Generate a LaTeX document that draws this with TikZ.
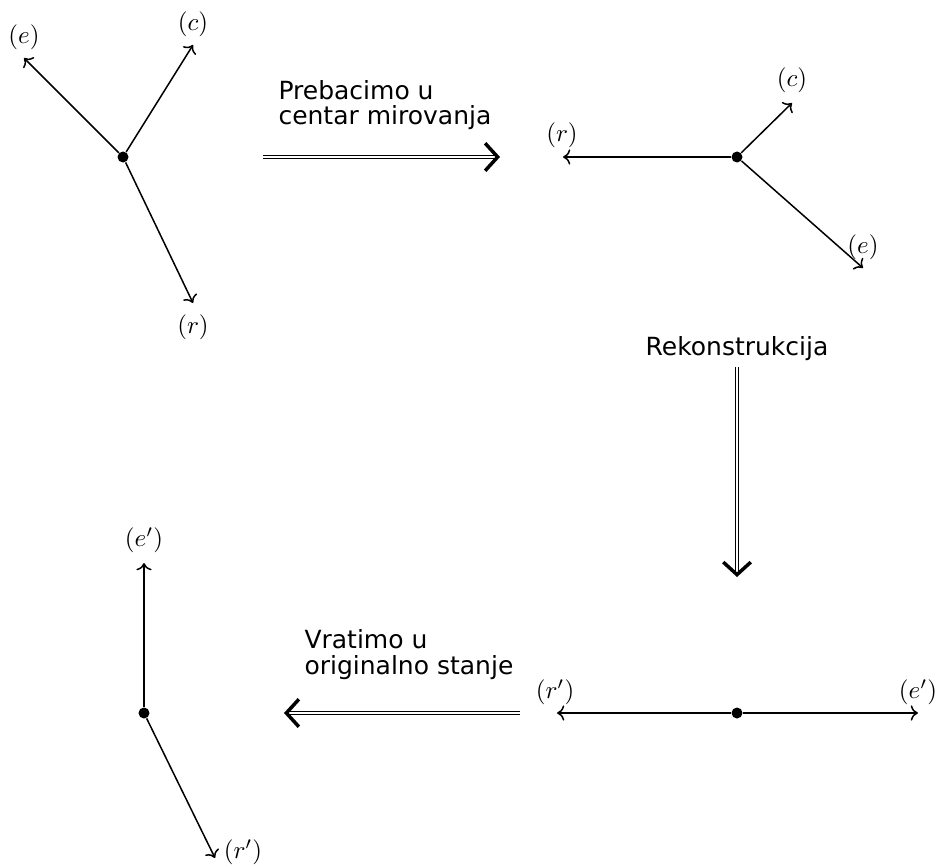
\documentclass[tikz,border=0pt]{standalone}
\usepackage{fontspec}
\setsansfont{DejaVu Sans}
\usetikzlibrary{arrows.meta}

\begin{document}
\begin{tikzpicture}[x=0.4pt,y=-0.4pt]
            \tikzstyle{every node}+=[inner sep=0pt]
            \tikzstyle{vec}=[->, semithick]
            \tikzstyle{tocka}=[circle, fill=black, minimum size=4.4pt]
            \tikzstyle{prijelaz}=[double, double distance=0.7pt, line width=0.45pt, -{Straight Barb[length=5pt, width=11pt, line width=1.4pt]}]
            \tikzstyle{opis}=[font=\sffamily\fontsize{10}{10.2}\selectfont, align=left, anchor=north west]
            \useasboundingbox (0,0) rectangle (939,866);
            % pocetno stanje
            \node [tocka] (o1) at (123,157) {};
            \coordinate (e1) at (24,58);
            \coordinate (c1) at (193,45);
            \coordinate (r1) at (193,303);
            \draw [vec] (o1) -- (e1);
            \draw [vec] (o1) -- (c1);
            \draw [vec] (o1) -- (r1);
            \node (le1) at (24,37) {$(e)$};
            \node (lc1) at (193,24) {$(c)$};
            \node (lr1) at (193,327) {$(r)$};
            % prebacivanje
            \coordinate (p1) at (263,157);
            \coordinate (p2) at (500,157);
            \draw [prijelaz] (p1) -- (p2);
            \node [opis] (t1) at (278,80) {Prebacimo u\\centar mirovanja};
            % centar mirovanja
            \node [tocka] (o2) at (737,157) {};
            \coordinate (r2) at (563,157);
            \coordinate (c2) at (792,103);
            \coordinate (e2) at (863,268);
            \draw [vec] (o2) -- (r2);
            \draw [vec] (o2) -- (c2);
            \draw [vec] (o2) -- (e2);
            \node (lr2) at (562,135) {$(r)$};
            \node (lc2) at (792,80) {$(c)$};
            \node (le2) at (863,247) {$(e)$};
            % rekonstrukcija
            \coordinate (p3) at (737,367);
            \coordinate (p4) at (737,577);
            \draw [prijelaz] (p3) -- (p4);
            \node (t2) at (737,349) {\sffamily Rekonstrukcija};
            % nakon rekonstrukcije
            \node [tocka] (o3) at (737,713) {};
            \coordinate (r3) at (557,713);
            \coordinate (e3) at (918,713);
            \draw [vec] (o3) -- (r3);
            \draw [vec] (o3) -- (e3);
            \node (lr3) at (555,692) {$(r')$};
            \node (le3) at (918,692) {$(e')$};
            % vracanje
            \coordinate (p5) at (520,713);
            \coordinate (p6) at (284,713);
            \draw [prijelaz] (p5) -- (p6);
            \node [opis] (t3) at (304,629) {Vratimo u\\originalno stanje};
            % originalno stanje
            \node [tocka] (o4) at (144,713) {};
            \coordinate (e4) at (144,563);
            \coordinate (r4) at (215,858);
            \draw [vec] (o4) -- (e4);
            \draw [vec] (o4) -- (r4);
            \node (le4) at (144,540) {$(e')$};
            \node (lr4) at (243,852) {$(r')$};
\end{tikzpicture}
\end{document}
